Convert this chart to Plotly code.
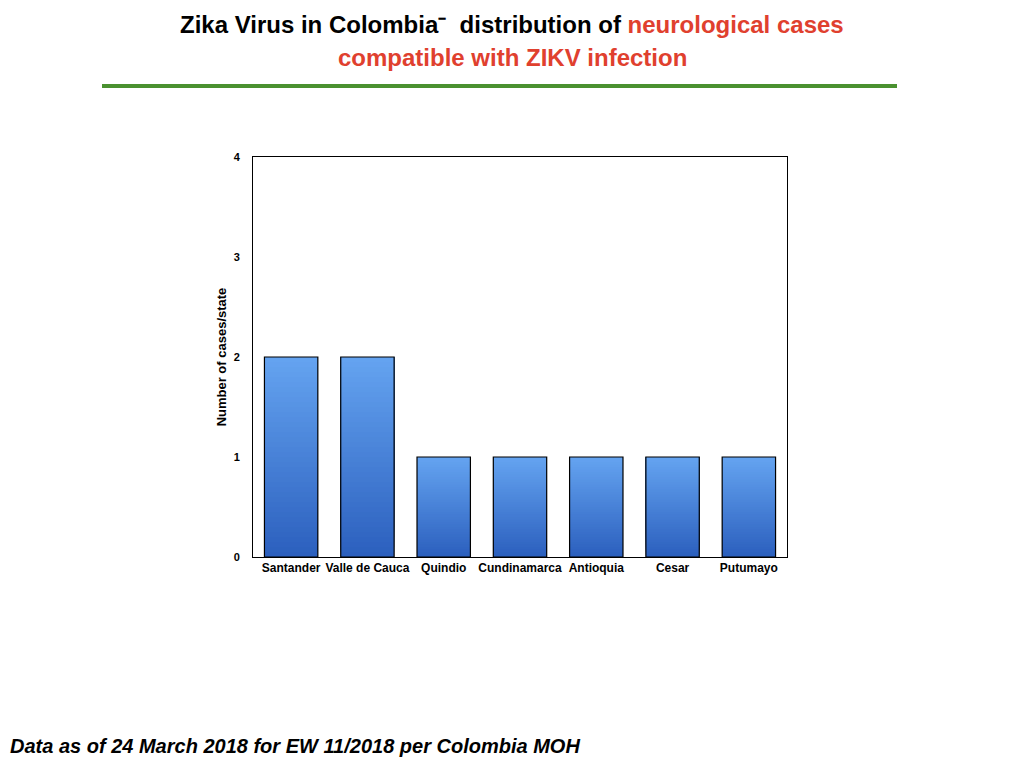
import plotly.graph_objects as go

# Data
states = ["Santander", "Valle de Cauca", "Quindio", "Cundinamarca", "Antioquia", "Cesar", "Putumayo"]
cases = [2, 2, 1, 1, 1, 1, 1]
y_ticks = [0, 1, 2, 3, 4]

# gradient colours (top -> bottom)
top_rgb = (100, 163, 240)
bottom_rgb = (44, 96, 190)
n_slices = 40

# plot area in page pixels (page has an 8px body margin)
PL, PT, PW, PH = 245, 149, 534, 400
FW, FH = 1008, 752


def px(x):
    return (x - 8 - PL) / PW


def py(y):
    return (PT + PH - (y - 8)) / PH


fig = go.Figure()

# fake a vertical gradient: each slice runs from its base up to the bar top,
# later (lighter) slices cover the earlier ones, so no seams show
for k in range(n_slices):
    t = k / (n_slices - 1)
    rgb = [round(b + (a - b) * t) for a, b in zip(top_rgb, bottom_rgb)]
    fig.add_trace(go.Bar(
        x=states,
        y=[v * (n_slices - k) / n_slices for v in cases],
        base=[v * k / n_slices for v in cases],
        width=0.7,
        marker=dict(color="rgb(%d,%d,%d)" % tuple(rgb), line=dict(width=0)),
        hoverinfo="skip",
        showlegend=False,
    ))

# outline on top
fig.add_trace(go.Bar(
    x=states,
    y=cases,
    width=0.7,
    marker=dict(color="rgba(0,0,0,0)", line=dict(color="black", width=1.2)),
    hovertemplate="%{x}: %{y}<extra></extra>",
    showlegend=False,
))

fig.update_layout(
    width=FW,
    height=FH,
    margin=dict(l=PL, r=FW - PL - PW, t=PT, b=FH - PT - PH),
    paper_bgcolor="white",
    plot_bgcolor="white",
    barmode="overlay",
    font=dict(family="Liberation Sans, Arial, sans-serif", color="black"),
    showlegend=False,
)

fig.update_xaxes(
    showline=True, linecolor="black", linewidth=1, mirror=True,
    showgrid=False, ticks="",
    tickfont=dict(size=12, weight="bold"),
)
fig.update_yaxes(
    range=[0, 4], tickvals=y_ticks,
    showline=True, linecolor="black", linewidth=1, mirror=True,
    showgrid=False, zeroline=False, ticks="",
    ticklabelstandoff=10,
    tickfont=dict(size=11, weight="bold"),
    title=dict(text="Number of cases/state", font=dict(size=13, weight="bold"), standoff=4),
)

# title in two lines
fig.add_annotation(
    text="<b>Zika Virus in Colombia\u207b  distribution of </b><b><span style='color:#e0402e'>neurological cases</span></b>",
    xref="paper", yref="paper", x=px(512), y=py(25),
    showarrow=False, font=dict(size=24, color="black"), xanchor="center", yanchor="middle",
)
fig.add_annotation(
    text="<b>compatible with ZIKV infection</b>",
    xref="paper", yref="paper", x=px(512), y=py(57),
    showarrow=False, font=dict(size=24, color="#e0402e"), xanchor="center", yanchor="middle",
)

# green rule under the title
fig.add_shape(
    type="line", xref="paper", yref="paper",
    x0=px(102), x1=px(897), y0=py(86), y1=py(86),
    line=dict(color="#4a9130", width=4),
)

# footer
fig.add_annotation(
    text="<b><i>Data as of 24 March 2018 for EW 11/2018 per Colombia MOH</i></b>",
    xref="paper", yref="paper", x=px(8), y=py(746),
    showarrow=False, font=dict(size=20, color="black"), xanchor="left", yanchor="middle",
)

fig.write_html("out.html")
